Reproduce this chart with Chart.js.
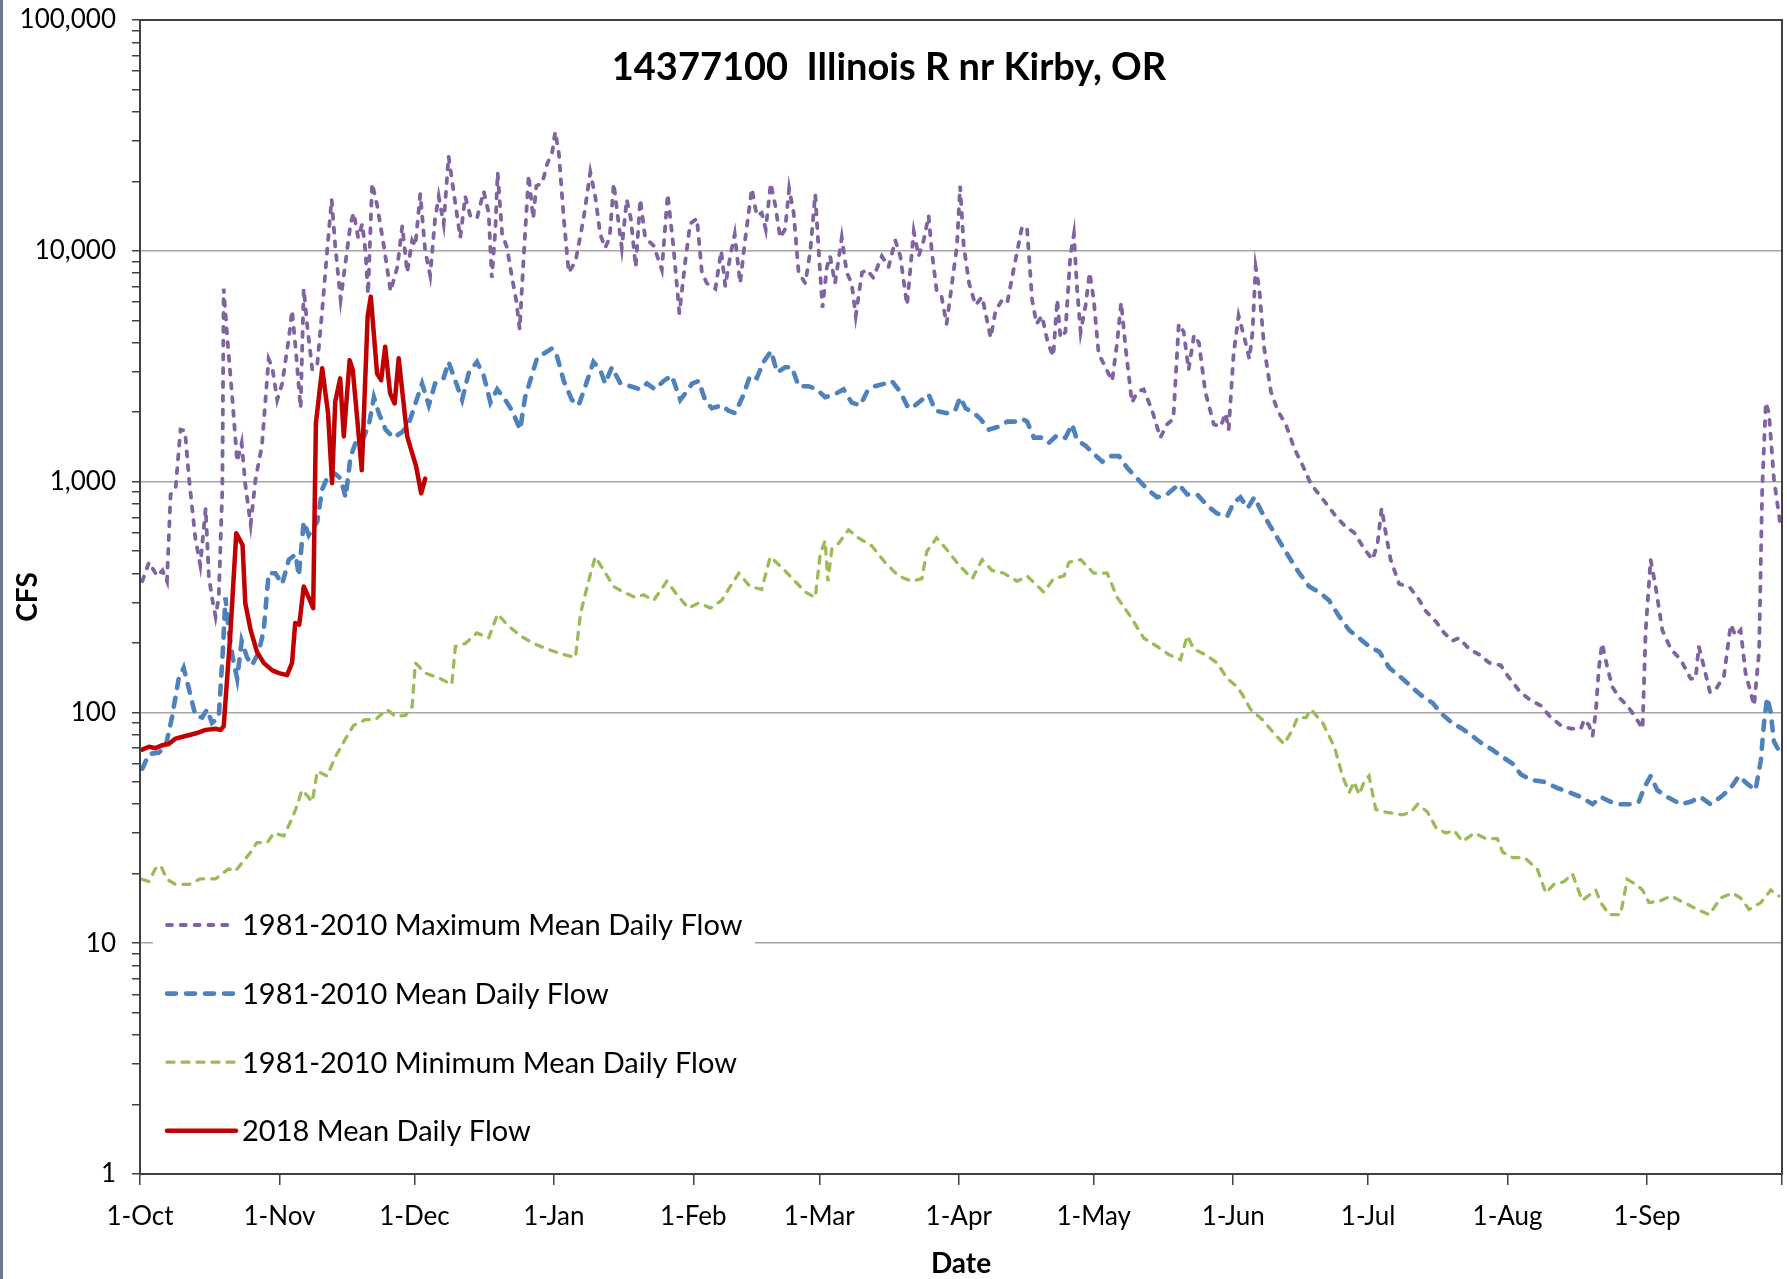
<!DOCTYPE html>
<html lang="en">
<head>
  <meta charset="UTF-8">
  <title>14377100 Illinois R nr Kirby, OR</title>
  <style>
    body {
      margin: 0;
      background-color: #fff;
    }
    canvas {
      display: block;
    }
  </style>
</head>
<body>
  <canvas id="chart" width="1787" height="1279"></canvas>

  <script src="https://cdn.jsdelivr.net/npm/chart.js"></script>
  <script>
    const chartTitle = '14377100  Illinois R nr Kirby, OR';

    // x axis: days since 1-Oct
    const monthDays = [0, 31, 61, 92, 123, 151, 182, 212, 243, 273, 304, 335, 365];
    const monthLabels = ['1-Oct', '1-Nov', '1-Dec', '1-Jan', '1-Feb', '1-Mar', '1-Apr', '1-May', '1-Jun', '1-Jul', '1-Aug', '1-Sep', ''];
    const yDecades = [1, 10, 100, 1000, 10000, 100000];

    // 1981-2010 maximum mean daily flow (cfs)
    const maxDays = [0.5, 2, 3.8, 5, 6, 6.8, 7.9, 9, 10, 10.9, 12.3, 13.4, 14.6, 15.3, 16, 16.8, 17.5, 18.3, 18.6, 19.4,
      20.5, 21.6, 22.6, 23.4, 24.6, 25.7, 27.1, 28.6, 29.4, 30.5, 31.6, 33.1, 33.8, 34.6, 35.7, 36.4, 37.2, 38.3, 39.4, 40.5,
      41.6, 42.6, 43.4, 44.6, 45.7, 46.8, 47.5, 48.5, 49.4, 50.1, 50.7, 51.6, 52.7, 54.2, 55.7, 57.2, 58.3, 59.4, 60.5, 61.2,
      62.3, 63.4, 64.5, 65.6, 66.4, 67.5, 68.6, 69.7, 71.2, 72.3, 73.4, 74.9, 76.4, 77.5, 78.2, 79, 79.5, 80.5, 81.6, 82.7,
      83.6, 84.4, 85.3, 86.4, 87.4, 88.1, 89.4, 90.5, 91.6, 92.3, 93.1, 94.2, 95.3, 96.8, 98.6, 100.1, 101.2, 102.3, 103.4, 104.4,
      105.3, 106.4, 107.1, 108.2, 109.1, 110.2, 111.2, 112.3, 114.2, 116, 117.3, 118.6, 119.9, 121.2, 122.3, 123.8, 124.9, 126, 127.9, 129.2,
      130.1, 131.2, 132.2, 133.4, 134.5, 136, 137.1, 138.2, 139.1, 140.2, 141.2, 142.3, 143.4, 144.3, 145.3, 146.4, 147.9, 149, 150.1, 150.8,
      151.7, 152.7, 153.4, 154.5, 156, 157.1, 158.2, 159.1, 160.5, 161.6, 163, 164.9, 166.4, 167.9, 169, 170.5, 172, 173.1, 174.2, 175.3,
      176, 177.1, 178.2, 179.3, 180.5, 181.6, 182.3, 183.1, 184.3, 185.7, 187.2, 189.1, 190.2, 191.7, 192.8, 194.3, 196.1, 197.2, 198.3, 199.3,
      200.5, 201.8, 203, 203.9, 204.6, 205.7, 206.8, 207.6, 208.3, 209.1, 210.2, 211.1, 212, 213.1, 214.6, 216.1, 217.2, 218.1, 219.1, 220.5,
      221.7, 223.1, 225, 226.8, 228.3, 229.7, 230.9, 232, 233.1, 234.3, 235.4, 236.8, 238.7, 240.2, 241.3, 242, 243.1, 244.2, 245.5, 246.6,
      247.3, 248, 248.8, 249.9, 251.4, 252.9, 254.7, 256.6, 258.4, 260.3, 262.1, 264, 265.8, 268.1, 269.9, 272.1, 274, 275.1, 276, 276.9,
      278, 279.9, 282.1, 284, 285.8, 288.1, 289.9, 291.7, 293.2, 295.5, 297.7, 299.9, 302.5, 303.6, 305, 306.9, 309.1, 311.4, 313.6, 315.8,
      318, 320.3, 321, 322.1, 322.9, 323.6, 324.3, 325, 326.2, 327.3, 328.8, 330.6, 332.5, 334, 334.7, 335.8, 336.9, 338.4, 340.3, 342.5,
      344.7, 345.8, 346.5, 347.7, 349, 350.3, 352.1, 353.6, 354.7, 355.8, 356.9, 358.8, 359.9, 360.6, 361.4, 362.1, 363.2, 364.7];
    const maxFlow = [370, 447, 390, 412, 370, 880, 930, 1680, 1660, 1030, 570, 435, 767, 390, 315, 260, 315, 930, 6850, 4200,
      2320, 1220, 1470, 973, 653, 1030, 1430, 3400, 3130, 2260, 2660, 4200, 5520, 3780, 2080, 6850, 4690, 3050, 3210, 5520,
      10000, 16700, 10500, 6150, 8970, 13100, 14600, 11400, 13100, 10000, 6490, 19600, 15800, 10500, 6670, 8500, 12800, 8050, 11100, 10500,
      17600, 10000, 7840, 13800, 17200, 13100, 25700, 18100, 11400, 17200, 14200, 13800, 18100, 14600, 7640, 12400, 21900, 11800, 10300, 7640,
      6150, 4570, 9480, 21300, 13800, 19100, 19600, 23800, 26500, 32800, 26500, 13800, 8050, 8970, 13800, 21900, 17200, 11800, 10300, 11400,
      19600, 13100, 10300, 16700, 13800, 8500, 16700, 11400, 10500, 8280, 17600, 10300, 5370, 8970, 13100, 13800, 8050, 7230, 6850, 10000,
      7030, 9480, 11800, 7230, 11100, 18600, 14200, 14600, 12400, 19600, 15800, 11400, 12400, 18600, 14600, 8050, 7230, 10000, 17600, 10500,
      5670, 8500, 9480, 7230, 11400, 8050, 7230, 5230, 8050, 8280, 7640, 9480, 8500, 11100, 9480, 5820, 12100, 9480, 11100, 14200,
      10000, 6670, 6310, 4820, 7230, 10500, 19100, 10500, 7230, 5820, 6310, 4200, 5520, 6150, 5980, 8500, 12800, 12400, 6150, 4820,
      5230, 3990, 3490, 6150, 4200, 4450, 9480, 11800, 6850, 4450, 5820, 8050, 6150, 3580, 3130, 2730, 3990, 5980, 3780, 2200,
      2450, 2510, 2030, 1550, 1770, 1870, 4820, 4450, 3050, 4320, 3990, 2450, 1770, 1730, 1980, 1680, 3580, 5230, 4200, 3400,
      4450, 8500, 6850, 3780, 2450, 2030, 1770, 1390, 1180, 973, 880, 789, 708, 635, 601, 512, 459, 540, 767, 601,
      459, 360, 351, 315, 275, 247, 221, 204, 210, 188, 178, 164, 160, 148, 136, 122, 113, 107, 95, 88,
      85, 85, 93, 88, 79, 100, 156, 199, 156, 129, 116, 107, 95, 85, 227, 459, 351, 227, 188, 169,
      140, 140, 193, 156, 122, 126, 144, 240, 215, 227, 148, 107, 183, 927, 2200, 1980, 1030, 635];

    // 1981-2010 mean daily flow (cfs)
    const meanDays = [0.5, 2, 4.2, 5.7, 7.1, 8.6, 9.7, 10.9, 12.3, 13.8, 14.9, 16, 17.5, 18.4, 19, 19.7, 20.6, 21.6, 22.6, 23.8,
      24.9, 26.4, 27.5, 28.6, 30.1, 31.6, 33.1, 34.6, 35.3, 36.4, 37.5, 39.4, 40.5, 42, 43.4, 44.6, 45.7, 46.8, 48.3, 49.7,
      50.9, 52, 53.1, 54.6, 56.4, 58.3, 59.7, 61.3, 62.7, 64.2, 65.6, 67.5, 68.6, 70.1, 71.6, 73.1, 74.9, 76.4, 77.9, 79.4,
      81.2, 82.7, 84.5, 85.6, 87.1, 88.2, 89.7, 91.6, 92.7, 94.2, 96, 97.5, 99, 100.8, 102.3, 103.4, 104.9, 106.8, 109, 111.2,
      112.7, 114.5, 116.4, 118.2, 120.1, 121.9, 122.7, 124.2, 125.6, 127.1, 129.3, 130.8, 132.3, 134.2, 135.6, 137.1, 138.6, 140.3, 141.6, 143.4,
      144.9, 146.4, 148.6, 150.5, 152.3, 154.5, 156.4, 158.2, 160.1, 161.6, 163.4, 165.6, 167.1, 169, 170.8, 172.3, 173.8, 175.3, 176.8, 179.3,
      181.2, 182.3, 183.5, 185.4, 186.8, 188.7, 190.9, 192.8, 194.6, 196.1, 197.2, 198.7, 200.5, 202, 203.9, 205.7, 207.2, 208.3, 210.2, 212,
      213.9, 215.7, 217.6, 219.4, 221.7, 223.9, 226.1, 228.3, 230.9, 232.8, 235, 237.2, 239.4, 241.7, 243.1, 244.6, 246.2, 247.7, 249.2, 251,
      253.2, 255.4, 257.7, 259.9, 262.1, 264.3, 266.6, 268.8, 271, 273.2, 275.5, 277.7, 279.9, 282.1, 284.7, 287.3, 289.5, 291.7, 293.9, 296.2,
      298.4, 300.6, 302.9, 305.1, 306.9, 309.1, 312.1, 315.1, 317.7, 320.3, 322.9, 324.7, 326.9, 329.1, 331.7, 333.2, 334.3, 335.8, 337.3, 339.5,
      342.5, 344.7, 346.9, 349.1, 351.4, 353.6, 355.4, 357.3, 359.1, 360.3, 361, 361.7, 362.5, 363.2, 364.7];
    const meanFlow = [57, 66, 67, 71, 95, 140, 156, 126, 97, 95, 103, 90, 95, 183, 315, 227, 173, 140, 204, 173,
      160, 183, 227, 401, 401, 360, 459, 484, 390, 670, 586, 670, 927, 1080, 1080, 1030, 855, 1280, 1550, 1550,
      1770, 2320, 1980, 1680, 1550, 1640, 1770, 2200, 2660, 2140, 2660, 2810, 3300, 2730, 2260, 2970, 3300, 2880, 2200, 2510,
      2260, 2030, 1680, 2320, 2880, 3400, 3580, 3780, 3490, 2730, 2260, 2140, 2590, 3300, 3050, 2660, 3130, 2660, 2590, 2510,
      2660, 2510, 2730, 2880, 2260, 2510, 2660, 2730, 2260, 2080, 2140, 2030, 1980, 2390, 2880, 2810, 3300, 3680, 2970, 3130,
      3130, 2590, 2590, 2510, 2320, 2390, 2510, 2200, 2140, 2450, 2590, 2660, 2730, 2450, 2080, 2140, 2260, 2390, 2030, 1980,
      2030, 2320, 2080, 1980, 1870, 1680, 1730, 1820, 1820, 1870, 1820, 1550, 1550, 1470, 1590, 1550, 1770, 1510, 1430, 1320,
      1220, 1290, 1290, 1150, 1030, 927, 855, 880, 973, 880, 880, 789, 728, 708, 809, 855, 767, 855, 747, 653,
      555, 472, 401, 351, 332, 306, 260, 227, 210, 193, 183, 156, 144, 132, 119, 110, 98, 90, 85, 79,
      73, 69, 64, 60, 54, 51, 50, 47, 45, 43, 40, 43, 41, 40, 40, 41, 47, 53, 46, 43,
      40, 41, 43, 40, 43, 47, 53, 49, 46, 62, 90, 116, 100, 75, 66];

    // 1981-2010 minimum mean daily flow (cfs)
    const minDays = [0.5, 2, 3.4, 4.6, 6, 7.9, 10.9, 13.4, 16.8, 18.3, 19.7, 21.2, 22.7, 24.6, 26, 28.3, 29.7, 32, 33.4, 34.6,
      36, 37.1, 38.3, 39.4, 40.5, 41.6, 43.4, 45.7, 47.5, 50.1, 52.3, 54.9, 56.8, 59, 60.5, 61.2, 63.4, 66.8, 69.3, 70.1,
      72.3, 74.9, 77.5, 79.5, 81.6, 84.5, 87.5, 90.5, 94.2, 96.8, 97.9, 99.7, 101.2, 103.1, 105.3, 107.5, 110.1, 111.9, 114.2, 117.1,
      119.4, 121.9, 124.2, 126.8, 129.3, 131.2, 133.1, 135.6, 138.2, 140.1, 142.7, 145.6, 147.9, 150.1, 151.2, 152.3, 152.9, 153.8, 155.3, 157.5,
      159.7, 162.7, 165.6, 168.6, 171.6, 173.8, 174.9, 177.1, 179.7, 182, 185, 187.2, 189.4, 192, 195, 197.2, 200.9, 203.1, 205.4, 206.5,
      209.1, 212, 215, 217.2, 220.2, 223.1, 226.1, 228.7, 231.3, 232.8, 234.3, 236.8, 239.4, 241.7, 243.9, 245.1, 246.9, 249.5, 252.1, 254.3,
      256.2, 257.3, 259.2, 260.3, 262.9, 265.5, 267.3, 268.8, 269.9, 271, 272.1, 273.2, 274.7, 276.9, 280.6, 282.5, 284, 286.2, 288.1, 290.3,
      292.1, 294, 296.6, 299.2, 301.7, 302.9, 305.1, 307.7, 310.6, 312.5, 314.3, 316.6, 318.4, 320.6, 323.6, 324.7, 326.6, 329.1, 330.6, 332.5,
      334, 335.4, 337.7, 340.3, 343.2, 346.2, 348.8, 351.4, 354, 355.8, 357.7, 360.3, 362.5, 364.3];
    const minFlow = [18.9, 18.5, 21, 21.7, 18.9, 18, 18, 19, 19, 20, 21, 20.5, 22.3, 24.8, 27.3, 27.3, 30, 29.2, 33.4, 38,
      46, 43.7, 41, 55.7, 54.3, 53, 64, 77, 88, 93, 93, 103, 96, 97, 106, 164, 148, 140, 132, 193,
      199, 221, 210, 267, 240, 215, 199, 188, 178, 173, 267, 370, 472, 412, 351, 332, 315, 323, 306, 370,
      323, 283, 298, 283, 306, 351, 401, 351, 341, 472, 424, 370, 332, 315, 484, 555, 370, 512, 540, 618,
      570, 526, 447, 390, 370, 380, 498, 570, 498, 435, 380, 459, 412, 401, 370, 390, 332, 380, 390, 447,
      459, 401, 401, 315, 260, 210, 193, 178, 169, 215, 188, 178, 164, 140, 129, 119, 103, 93, 81, 73,
      84, 95, 95, 103, 90, 71, 53, 45, 50, 44, 50, 53, 38, 37, 36, 37, 40, 37, 31.6, 30,
      30.8, 27.6, 30, 28.4, 28.4, 24.8, 23.5, 23.5, 21, 16.5, 18, 18.5, 20, 15.3, 17, 15, 13.3, 13.3, 18.9, 18,
      17, 15, 15.2, 16, 15, 14, 13.3, 15.7, 16.5, 15.7, 14, 15, 17, 16];

    // 2018 mean daily flow (cfs)
    const days2018 = [0.5, 2, 3.4, 4.9, 6.4, 7.9, 10.1, 12.3, 14.6, 16.8, 17.9, 18.6, 20.1, 21.4, 22.8, 23.4, 24.6, 26, 27.5, 29.4,
      30.9, 32.7, 33.8, 34.5, 35.4, 36.4, 37.5, 38.5, 39.1, 40.5, 41.8, 42.7, 43.4, 44.5, 45.3, 46.6, 47.3, 48.4, 49.3, 50.6,
      51.3, 52.7, 53.6, 54.5, 55.6, 56.6, 57.5, 59.4, 60.4, 61.4, 62.5, 63.4];
    const flow2018 = [69, 71, 70, 72, 73, 77, 79, 81, 84, 85, 84, 87, 221, 597, 531, 298, 227, 183, 164, 152,
      148, 145, 164, 244, 240, 351, 315, 283, 1790, 3100, 1980, 984, 2220, 2800, 1570, 3360, 3040, 1770, 1120, 5190,
      6330, 2940, 2750, 3840, 2410, 2180, 3420, 1570, 1350, 1160, 890, 1030];

    const toPoints = (xs, ys) => xs.map((x, i) => ({ x: x, y: ys[i] }));
    const isDecade = v => yDecades.includes(v);

    const frame = {
      id: 'frame',
      afterDatasetsDraw(chart) {
        const c = chart.ctx;
        const a = chart.chartArea;
        c.save();

        // legend box inside the plot
        c.fillStyle = '#fff';
        c.fillRect(a.left + 13, 893, 602, 268);
        chart.data.datasets.forEach((ds, i) => {
          const y = 925 + i * 68.6;
          c.beginPath();
          c.strokeStyle = ds.borderColor;
          c.lineWidth = ds.borderWidth;
          c.lineCap = ds.borderCapStyle;
          c.setLineDash(ds.borderDash || []);
          c.moveTo(a.left + 27, y);
          c.lineTo(a.left + 96, y);
          c.stroke();
          c.setLineDash([]);
          c.fillStyle = '#000';
          c.font = '29px Lato';
          c.textAlign = 'left';
          c.textBaseline = 'middle';
          c.fillText(ds.label, a.left + 102, y + 1);
        });

        // title sits inside the plot area
        c.font = 'bold 38px Lato';
        c.textAlign = 'center';
        c.textBaseline = 'middle';
        c.fillStyle = '#000';
        c.fillText(chartTitle, 889, 68);

        // plot border
        c.strokeStyle = '#404040';
        c.lineWidth = 2;
        c.strokeRect(a.left, a.top, a.right - a.left, a.bottom - a.top);

        // thin strip on the left edge of the picture
        c.fillStyle = '#6a7890';
        c.fillRect(0, 0, 3, chart.height);
        c.restore();
      }
    };

    const tickFont = { family: 'Lato', size: 26 };
    const titleFont = { family: 'Lato', size: 28, weight: 'bold' };

    new Chart(document.getElementById('chart'), {
      type: 'line',
      data: {
        datasets: [
          {
            label: '1981-2010 Maximum Mean Daily Flow',
            data: toPoints(maxDays, maxFlow),
            borderColor: '#8064A2',
            borderWidth: 3.8,
            borderDash: [5, 8.8],
            borderCapStyle: 'round',
            order: 4
          },
          {
            label: '1981-2010 Mean Daily Flow',
            data: toPoints(meanDays, meanFlow),
            borderColor: '#4F81BD',
            borderWidth: 4.6,
            borderDash: [9, 10],
            borderCapStyle: 'round',
            order: 3
          },
          {
            label: '1981-2010 Minimum Mean Daily Flow',
            data: toPoints(minDays, minFlow),
            borderColor: '#9BBB59',
            borderWidth: 3.3,
            borderDash: [7, 8],
            borderCapStyle: 'round',
            order: 2
          },
          {
            label: '2018 Mean Daily Flow',
            data: toPoints(days2018, flow2018),
            borderColor: '#C00000',
            borderWidth: 4.5,
            borderCapStyle: 'round',
            borderJoinStyle: 'round',
            order: 1
          }
        ]
      },
      options: {
        responsive: false,
        animation: false,
        layout: { padding: { top: 20, right: 5, left: 0, bottom: 0 } },
        elements: { point: { radius: 0 }, line: { tension: 0, fill: false } },
        plugins: {
          legend: { display: false },
          tooltip: { enabled: false }
        },
        scales: {
          x: {
            type: 'linear',
            min: 0,
            max: 365,
            afterBuildTicks: s => { s.ticks = monthDays.map(v => ({ value: v })); },
            afterFit: s => { s.height = 105; s.paddingLeft = 0; s.paddingRight = 0; },
            ticks: {
              autoSkip: false,
              maxRotation: 0,
              padding: 16,
              font: tickFont,
              color: '#000',
              callback: v => monthLabels[monthDays.indexOf(v)]
            },
            grid: {
              drawOnChartArea: false,
              tickLength: 11,
              color: '#404040',
              lineWidth: 1.5
            },
            border: { display: true, color: '#404040', width: 2 },
            title: {
              display: true,
              text: 'Date',
              font: titleFont,
              color: '#000',
              padding: { top: 0, bottom: -2 }
            }
          },
          y: {
            type: 'logarithmic',
            min: 1,
            max: 100000,
            afterBuildTicks: s => {
              const t = [];
              yDecades.forEach(d => {
                t.push({ value: d });
                if (d < 100000) {
                  for (let m = 2; m < 10; m++) t.push({ value: d * m });
                }
              });
              s.ticks = t;
            },
            afterFit: s => { s.width = 140; s.paddingTop = 0; s.paddingBottom = 0; },
            ticks: {
              autoSkip: false,
              padding: 16,
              font: tickFont,
              color: '#000',
              callback: v => isDecade(v) ? v.toLocaleString('en-US') : ''
            },
            grid: {
              color: c => (c.tick && isDecade(c.tick.value)) ? '#a6a6a6' : 'rgba(0,0,0,0)',
              lineWidth: 1.5,
              tickColor: '#404040',
              tickWidth: 1.5,
              tickLength: 8
            },
            border: { display: true, color: '#404040', width: 2 },
            title: {
              display: true,
              text: 'CFS',
              font: titleFont,
              color: '#000',
              padding: { top: 11, bottom: 0 }
            }
          }
        }
      },
      plugins: [frame]
    });
  </script>
</body>
</html>
